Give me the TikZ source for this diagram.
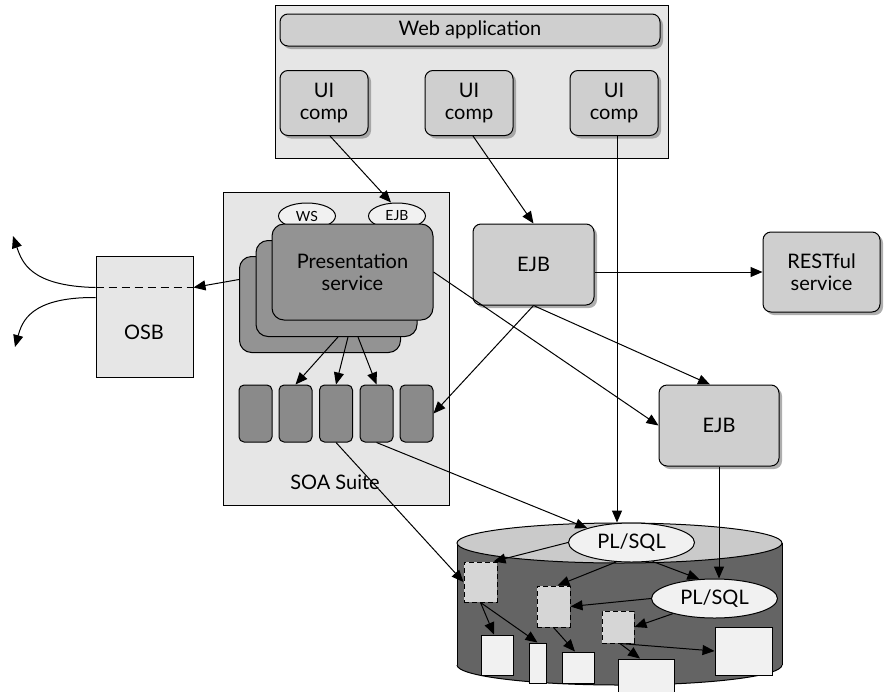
\documentclass[tikz,border=0pt]{standalone}
\usepackage{fontspec}
\setmainfont{Lato}
\usetikzlibrary{arrows.meta, shadows, shapes.geometric}
\definecolor{panel}{HTML}{E6E6E6}
\definecolor{compgray}{HTML}{CFCFCF}
\definecolor{svcgray}{HTML}{939393}
\definecolor{slotgray}{HTML}{8A8A8A}
\definecolor{paper}{HTML}{F1F1F1}
\definecolor{dbtop}{HTML}{CACACA}
\definecolor{dbbody}{HTML}{646464}
\definecolor{objgray}{HTML}{D6D6D6}
\tikzset{
  arr/.style={-{Triangle[length=12pt,width=10pt]}},
  panelbox/.style={draw, fill=panel, inner sep=0pt},
  comp/.style={draw, rounded corners=8pt, fill=compgray, align=center, inner sep=0pt,
    drop shadow={shadow xshift=3pt, shadow yshift=-3pt, fill=black!45, opacity=.7}},
  svc/.style={draw, rounded corners=12pt, fill=svcgray, align=center, inner sep=0pt,
    minimum width=161pt, minimum height=96pt},
  slot/.style={draw, rounded corners=5pt, fill=slotgray, minimum width=33pt, minimum height=57pt},
  port/.style={draw, ellipse, fill=paper, minimum width=57pt, minimum height=26pt, inner sep=0pt,
    font=\fontsize{14}{15}\selectfont},
  plsql/.style={draw, ellipse, fill=paper, minimum width=126pt, minimum height=39pt, inner sep=0pt,
    font=\fontsize{20}{22}\selectfont},
  dbobj/.style={draw, dash pattern=on 5pt off 3pt, fill=objgray, inner sep=0pt},
  tbl/.style={draw, fill=paper, inner sep=0pt}
}
\begin{document}
\begin{tikzpicture}[x=1pt, y=-1pt, line width=1pt, font=\fontsize{20}{22}\selectfont]
\useasboundingbox (0,0) rectangle (886,691);
% web application
\node[panelbox, minimum width=393pt, minimum height=153pt] (web) at (471.5,81.5) {};
\node[comp, minimum width=380pt, minimum height=32pt] (webapp) at (470,30) {Web application};
\node[comp, minimum width=88pt, minimum height=65pt] (ui1) at (324,103) {UI\\comp};
\node[comp, minimum width=88pt, minimum height=65pt] (ui2) at (469,103) {UI\\comp};
\node[comp, minimum width=88pt, minimum height=65pt] (ui3) at (614,103) {UI\\comp};
% soa suite
\node[panelbox, minimum width=226pt, minimum height=313pt] (soa) at (336,348.5) {};
\node (soalbl) at (335,482) {SOA Suite};
\node[port] (wsport) at (307,216) {WS};
\node[port] (ejbport) at (397,216) {EJB};
\node[svc] (presc) at (320,304.5) {};
\node[svc] (presb) at (336.5,288.5) {};
\node[svc] (pres) at (352.5,272) {Presentation\\service};
\foreach \i/\x in {1/255.5, 2/295.5, 3/336, 4/376.5, 5/416.5}
  \node[slot] (s\i) at (\x,413.5) {};
% osb
\node[panelbox, minimum width=97pt, minimum height=121pt] (osb) at (144.5,316.5) {};
\node (osblbl) at (144,332) {OSB};
\coordinate (osbin) at ([yshift=29pt]osb.east);
\coordinate (osbout) at ([yshift=29pt]osb.west);
\coordinate (out1) at (13,236);
\coordinate (out2) at (15,347);
% ejbs and rest
\node[comp, minimum width=121pt, minimum height=81pt] (ejb1) at (533.5,264.5) {EJB};
\node[comp, minimum width=117pt, minimum height=80pt] (rest) at (821.5,272) {RESTful\\service};
\node[comp, minimum width=120pt, minimum height=81pt] (ejb2) at (719,425.5) {EJB};
% database
\fill[dbbody] (457,543) rectangle (782,665);
\fill[dbbody] (619.5,665) ellipse (162.5 and 20);
\begin{scope}
  \clip (450,665) rectangle (790,700);
  \draw (619.5,665) ellipse (162.5 and 20);
\end{scope}
\draw (457,543) -- (457,665);
\draw (782,543) -- (782,665);
\filldraw[fill=dbtop] (619.5,543) ellipse (162.5 and 20);
\node[plsql] (plsql1) at (631.5,542.5) {PL/SQL};
\node[plsql] (plsql2) at (714.5,598.5) {PL/SQL};
\node[dbobj, minimum width=33pt, minimum height=40pt] (d1) at (480.5,582) {};
\node[dbobj, minimum width=33pt, minimum height=41pt] (d2) at (553.5,606.5) {};
\node[dbobj, minimum width=32pt, minimum height=32pt] (d3) at (618,627) {};
\node[tbl, minimum width=32pt, minimum height=40pt] (w1) at (497,655) {};
\node[tbl, minimum width=17pt, minimum height=40pt] (w2) at (537.5,663) {};
\node[tbl, minimum width=32pt, minimum height=31pt] (w3) at (578,667.5) {};
\node[tbl, minimum width=56pt, minimum height=40pt] (w4) at (646,679) {};
\node[tbl, minimum width=57pt, minimum height=48pt] (w5) at (743.5,651) {};
% connectors
\coordinate (u3) at ([xshift=3pt]ui3.south);
\draw[arr] ([xshift=6pt]ui1.south) -- ([xshift=-6pt]ejbport.north);
\draw[arr] ([xshift=4pt]ui2.south) -- (ejb1.north);
\draw[arr] (u3) -- (u3 |- plsql1.north);
\draw[arr] (ejb1.east |- rest.west) -- (rest.west);
\draw[arr] (ejb1.south) -- (s5.east);
\draw[arr] (ejb1.south) -- ([xshift=-9pt]ejb2.north);
\draw[arr] (pres.east) -- (ejb2.west);
\draw[arr] (ejb2.south) -- (ejb2.south |- plsql2.north);
\draw[arr] ([yshift=25pt]presc.west) -- (osbin);
\draw[dash pattern=on 8pt off 5pt] (osbout) -- (osbin);
\draw[arr] (osbout) .. controls (30,286) and (22,262) .. (out1);
\draw[arr] ([yshift=19pt]osb.west) .. controls (30,297) and (22,322) .. (out2);
\draw[arr] ([xshift=1.5pt]presb.south) -- (s2.north);
\draw[arr] ([xshift=11.5pt]presb.south) -- (s3.north);
\draw[arr] ([xshift=21.5pt]presb.south) -- (s4.north);
\draw[arr] (s4.south) -- (plsql1.162);
\draw[arr] (s3.south) -- (d1.west);
\draw[arr] (plsql1.west) -- ([xshift=-4pt]d1.north east);
\draw[arr] (plsql1.232) -- ([xshift=4pt]d2.north);
\draw[arr] (plsql1.318) -- (plsql2.128);
\draw[arr] (plsql2.west) -- (d2.east);
\draw[arr] (plsql2.200) -- (d3.east);
\draw[arr] (d1.south) -- ([xshift=-3pt]w1.north);
\draw[arr] (d1.south) -- (w2.north);
\draw[arr] (d2.south) -- ([xshift=-3pt]w3.north);
\draw[arr] ([xshift=2pt]d3.south) -- ([xshift=-6pt]w4.north);
\draw[arr] ([xshift=2pt]d3.south) -- (w5.west);
\end{tikzpicture}
\end{document}
